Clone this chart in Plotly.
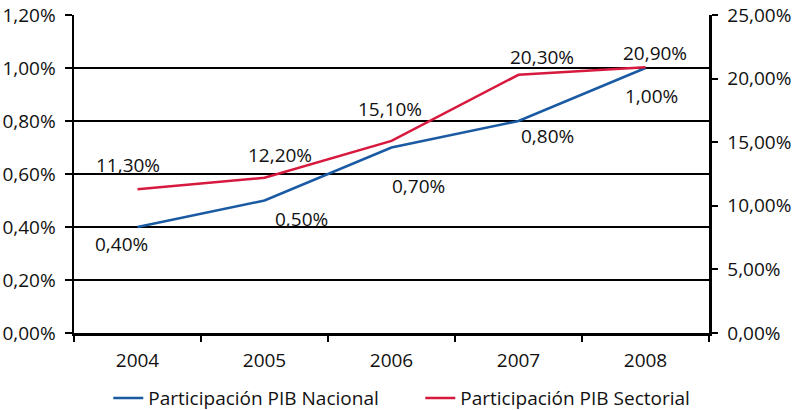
import plotly.graph_objects as go

years = ["2004", "2005", "2006", "2007", "2008"]
nacional = [0.40, 0.50, 0.70, 0.80, 1.00]      # % (left axis)
sectorial = [11.30, 12.20, 15.10, 20.30, 20.90]  # % (right axis)
label_nacional = ["0,40%", "0,50%", "0,70%", "0,80%", "1,00%"]
label_sectorial = ["11,30%", "12,20%", "15,10%", "20,30%", "20,90%"]

blue = "#1a5aa3"
red = "#d7193d"
font_family = "Open Sans, Noto Sans, sans-serif"
fs = 19

fig = go.Figure()
fig.add_trace(go.Scatter(x=years, y=[v / 100 for v in nacional], mode="lines",
                         name="Participación PIB Nacional",
                         line=dict(color=blue, width=2.5), yaxis="y"))
fig.add_trace(go.Scatter(x=years, y=[v / 100 for v in sectorial], mode="lines",
                         name="Participación PIB Sectorial",
                         line=dict(color=red, width=2.5), yaxis="y2"))

nac_shift = [(-16, -17), (37, -18), (27, -38), (29, -15), (6, -28)]
sec_shift = [(-10, 24), (15, 23), (-2, 32), (23, 18), (9, 14)]
annotations = []
for i, (v, t, (dx, dy)) in enumerate(zip(nacional, label_nacional, nac_shift)):
    annotations.append(dict(x=i, y=v / 100, xref="x", yref="y", text=t, showarrow=False,
                            xshift=dx, yshift=dy, font=dict(size=fs, color="#111111")))
for i, (v, t, (dx, dy)) in enumerate(zip(sectorial, label_sectorial, sec_shift)):
    annotations.append(dict(x=i, y=v / 100, xref="x", yref="y2", text=t, showarrow=False,
                            xshift=dx, yshift=dy, font=dict(size=fs, color="#111111")))

fig.update_layout(
    width=793, height=410,
    autosize=False,
    hovermode=False,
    margin=dict(l=74, r=84, t=15, b=77, pad=0, autoexpand=False),
    paper_bgcolor="white", plot_bgcolor="white",
    separators=",.",
    font=dict(family=font_family, size=fs, color="#111111"),
    showlegend=True,
    legend=dict(orientation="h", x=0.054, xanchor="left", y=-0.205, yanchor="middle",
                font=dict(size=fs), entrywidth=267, entrywidthmode="pixels"),
    xaxis=dict(type="category", range=[-0.5, 4.5], tickson="boundaries",
               ticks="outside", ticklen=6, tickwidth=2, tickcolor="black",
               showline=True, linecolor="black", linewidth=2.5, showgrid=False,
               automargin=False, ticklabelstandoff=9, ticklabeloverflow="allow"),
    yaxis=dict(range=[0, 0.0120005], dtick=0.002, tickformat=".2%",
               showgrid=True, gridcolor="black", gridwidth=2,
               ticks="outside", ticklen=7, tickwidth=2, tickcolor="black",
               showline=True, linecolor="black", linewidth=2.5, zeroline=False,
               automargin=False, ticklabelstandoff=5, ticklabeloverflow="allow"),
    yaxis2=dict(range=[0, 0.25], dtick=0.05, tickformat=".2%", overlaying="y", side="right",
                showgrid=False, ticks="outside", ticklen=6, tickwidth=2, tickcolor="black",
                showline=True, linecolor="black", linewidth=2.5, zeroline=False,
                automargin=False, ticklabelstandoff=6, ticklabeloverflow="allow"),
    annotations=annotations,
)

fig.write_html(
    "out.html",
    config={"displayModeBar": False, "staticPlot": True},
    post_script="document.body.style.margin='0';document.body.style.overflow='hidden';"
                "window.scrollTo(0,0);",
)
